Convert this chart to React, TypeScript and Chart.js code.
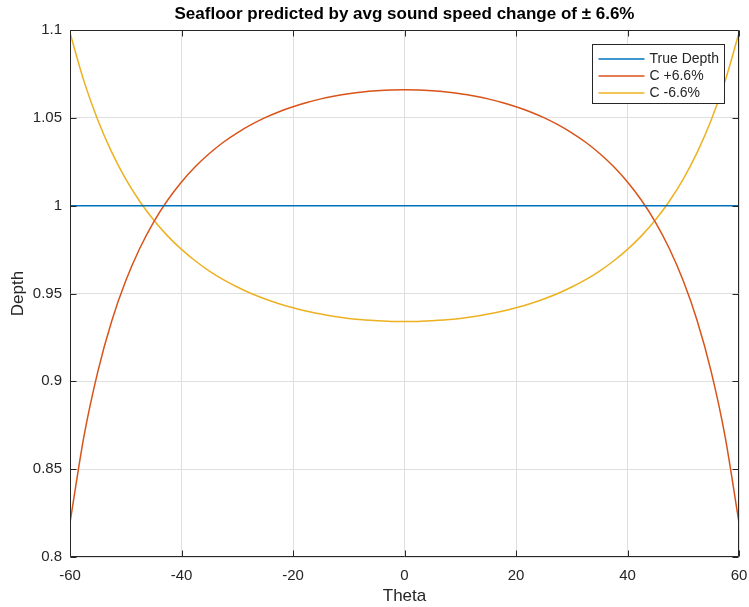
import React, { useEffect, useRef } from 'react';
import { Chart, registerables } from 'chart.js';

Chart.register(...registerables);

// ---- Data ----
const THETA = [
  -60, -57.5, -55, -52.5, -50, -47.5, -45, -42.5, -40, -37.5, -35, -32.5, -30, -27.5, -25, -22.5, -20, -17.5, -15, -12.5, -10, -7.5, -5, -2.5,
  0, 2.5, 5, 7.5, 10, 12.5, 15, 17.5, 20, 22.5, 25, 27.5, 30, 32.5, 35, 37.5, 40, 42.5, 45, 47.5, 50, 52.5, 55, 57.5, 60,
];
const C_PLUS = [
  0.8195, 0.8687, 0.9057, 0.9345, 0.9572, 0.9756, 0.9907, 1.0031, 1.0135, 1.0223, 1.0297, 1.0361, 1.0415, 1.0461, 1.0501, 1.0535, 1.0563, 1.0587, 1.0608, 1.0624, 1.0637, 1.0647, 1.0654, 1.0659,
  1.066, 1.0659, 1.0654, 1.0647, 1.0637, 1.0624, 1.0608, 1.0587, 1.0563, 1.0535, 1.0501, 1.0461, 1.0415, 1.0361, 1.0297, 1.0223, 1.0135, 1.0031, 0.9907, 0.9756, 0.9572, 0.9345, 0.9057, 0.8687, 0.8195,
];
const C_MINUS = [
  1.0984, 1.0709, 1.0486, 1.0303, 1.0151, 1.0025, 0.9918, 0.9828, 0.9751, 0.9685, 0.9628, 0.9579, 0.9537, 0.95, 0.9469, 0.9442, 0.9419, 0.9399, 0.9383, 0.9369, 0.9358, 0.935, 0.9345, 0.9341,
  0.934, 0.9341, 0.9345, 0.935, 0.9358, 0.9369, 0.9383, 0.9399, 0.9419, 0.9442, 0.9469, 0.95, 0.9537, 0.9579, 0.9628, 0.9685, 0.9751, 0.9828, 0.9918, 1.0025, 1.0151, 1.0303, 1.0486, 1.0709, 1.0984,
];
const TRUE_THETA = [-60, 60];
const TRUE_DEPTH = [1, 1];

const X_TICKS = [-60, -40, -20, 0, 20, 40, 60];
const Y_TICKS = [0.8, 0.85, 0.9, 0.95, 1, 1.05, 1.1];
const SERIES_LABELS = ['True Depth', 'C +6.6%', 'C -6.6%'];
const SERIES_COLORS = ['#0072BD', '#D95319', '#EDB120'];
const TITLE = 'Seafloor predicted by avg sound speed change of \u00B1 6.6%';
const X_TITLE = 'Theta';
const Y_TITLE = 'Depth';

const FONT = "'Liberation Sans', Arial, Helvetica, sans-serif";
const AXIS_COLOR = '#262626';
const GRID_COLOR = '#dfdfdf';

const toPoints = (xs: number[], ys: number[]) => xs.map((x, i) => ({ x, y: ys[i] }));

const matlabPlugin = {
  id: 'matlabAxes',
  afterDraw(chart: any) {
    const { ctx, chartArea: a, scales } = chart;
    const xs = scales.x;
    const ys = scales.y;
    const L = Math.round(a.left) + 0.5;
    const R = Math.round(a.right) - 0.5;
    const T = Math.round(a.top) + 0.5;
    const B = Math.round(a.bottom) - 0.5;
    const tl = 6;
    ctx.save();
    ctx.strokeStyle = AXIS_COLOR;
    ctx.lineWidth = 1;
    ctx.beginPath();
    ctx.rect(L, T, R - L, B - T);
    ctx.stroke();
    ctx.beginPath();
    X_TICKS.forEach((v) => {
      const px = Math.round(xs.getPixelForValue(v)) + 0.5;
      ctx.moveTo(px, B);
      ctx.lineTo(px, B - tl);
      ctx.moveTo(px, T);
      ctx.lineTo(px, T + tl);
    });
    Y_TICKS.forEach((v) => {
      const py = Math.round(ys.getPixelForValue(v)) + 0.5;
      ctx.moveTo(L, py);
      ctx.lineTo(L + tl, py);
      ctx.moveTo(R, py);
      ctx.lineTo(R - tl, py);
    });
    ctx.stroke();

    // legend (MATLAB style box, top-right inside the axes)
    const fontSize = 14;
    ctx.font = `${fontSize}px ${FONT}`;
    const datasets = chart.data.datasets;
    const textW = Math.max(...datasets.map((d: any) => ctx.measureText(d.label).width));
    const lineLen = 46;
    const padL = 6;
    const gap = 5;
    const rowH = 17;
    const boxW = Math.round(padL + lineLen + gap + textW + 5);
    const boxH = 59;
    const bx = Math.round(a.right) - 15 - boxW + 0.5;
    const by = Math.round(a.top) + 14 + 0.5;
    ctx.fillStyle = '#ffffff';
    ctx.fillRect(bx, by, boxW, boxH);
    ctx.strokeStyle = AXIS_COLOR;
    ctx.lineWidth = 1;
    ctx.strokeRect(bx, by, boxW, boxH);
    ctx.textBaseline = 'middle';
    ctx.textAlign = 'left';
    datasets.forEach((d: any, i: number) => {
      const cy = Math.round(by + 14 + rowH * i);
      ctx.strokeStyle = d.borderColor;
      ctx.lineWidth = 1.5;
      ctx.beginPath();
      ctx.moveTo(bx + padL, cy);
      ctx.lineTo(bx + padL + lineLen, cy);
      ctx.stroke();
      ctx.fillStyle = AXIS_COLOR;
      ctx.fillText(d.label, bx + padL + lineLen + gap, cy + 0.5);
    });
    ctx.restore();
  },
};

export default function App() {
  const ref = useRef<HTMLCanvasElement | null>(null);

  useEffect(() => {
    if (!ref.current) return;
    const mkDs = (label: string, color: string, data: any[]) => ({
      label,
      data,
      borderColor: color,
      backgroundColor: color,
      borderWidth: 1.5,
      pointRadius: 0,
      pointHoverRadius: 0,
      fill: false,
      cubicInterpolationMode: 'monotone' as const,
    });
    const chart = new Chart(ref.current, {
      type: 'line',
      data: {
        datasets: [
          mkDs(SERIES_LABELS[0], SERIES_COLORS[0], toPoints(TRUE_THETA, TRUE_DEPTH)),
          mkDs(SERIES_LABELS[1], SERIES_COLORS[1], toPoints(THETA, C_PLUS)),
          mkDs(SERIES_LABELS[2], SERIES_COLORS[2], toPoints(THETA, C_MINUS)),
        ],
      },
      options: {
        animation: false,
        responsive: false,
        devicePixelRatio: 1,
        events: [],
        layout: { padding: { left: 0, right: 10, top: 0, bottom: 0 } },
        plugins: {
          legend: { display: false },
          tooltip: { enabled: false },
          title: {
            display: true,
            fullSize: false,
            text: TITLE,
            color: '#000000',
            font: { family: FONT, size: 17, weight: 'bold' },
            padding: { top: 4.1, bottom: 5.5 },
          },
        },
        scales: {
          x: {
            type: 'linear',
            min: -60,
            max: 60,
            afterBuildTicks: (s: any) => {
              s.ticks = X_TICKS.map((v) => ({ value: v }));
            },
            afterFit: (s: any) => {
              s.height = 50;
              s.paddingLeft = 0;
              s.paddingRight = 0;
            },
            grid: { color: GRID_COLOR, lineWidth: 1, drawTicks: false },
            border: { display: false },
            ticks: {
              color: AXIS_COLOR,
              font: { family: FONT, size: 15 },
              padding: 10,
              maxRotation: 0,
              callback: (v: any) => String(v),
            },
            title: {
              display: true,
              text: X_TITLE,
              color: AXIS_COLOR,
              font: { family: FONT, size: 17 },
              padding: { top: 0, bottom: 0 },
            },
          },
          y: {
            type: 'linear',
            min: 0.8,
            max: 1.1,
            afterBuildTicks: (s: any) => {
              s.ticks = Y_TICKS.map((v) => ({ value: v }));
            },
            afterFit: (s: any) => {
              s.width = 70;
            },
            grid: { color: GRID_COLOR, lineWidth: 1, drawTicks: false },
            border: { display: false },
            ticks: {
              color: AXIS_COLOR,
              font: { family: FONT, size: 15 },
              padding: 8,
              callback: (v: any) => String(Number(Number(v).toFixed(2))),
            },
            title: {
              display: true,
              text: Y_TITLE,
              color: AXIS_COLOR,
              font: { family: FONT, size: 17 },
              padding: { top: 8, bottom: 0 },
            },
          },
        },
      } as any,
      plugins: [matlabPlugin],
    });
    return () => chart.destroy();
  }, []);

  return (
    <div style={{ position: 'fixed', left: 0, top: 0, width: 749, height: 607, background: '#ffffff' }}>
      <canvas ref={ref} width={749} height={607} style={{ display: 'block', width: 749, height: 607 }} />
    </div>
  );
}
